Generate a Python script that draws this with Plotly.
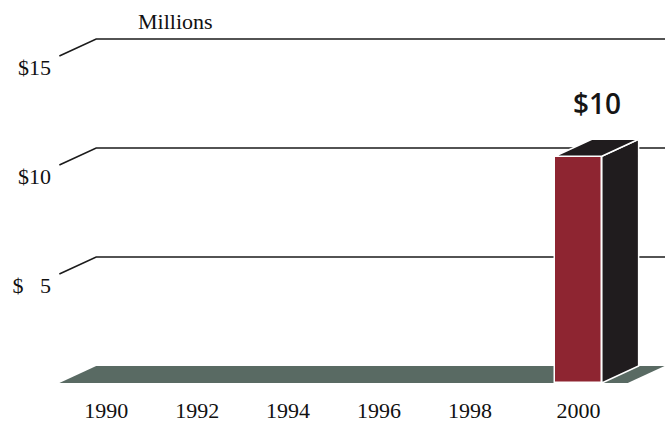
import plotly.graph_objects as go

# Revenue in millions of dollars, by year
label_years = [1990, 1992, 1994, 1996, 1998, 2000]
bar_years = [2000]
bar_values = [10.4]
grid_values = [5, 10, 15]
grid_labels = ["$\u2007\u00a05", "$10", "$15"]

# Pseudo-3D styling
depth_x, depth_y = 0.81, 0.78          # receding offset of the back plane (data units)
bar_width, bar_offset = 1.03, -0.13    # bar front face relative to its year
x_range = [1988.94, 2002.29]
y_range = [-0.55, 17.2]
floor_x0, floor_x1 = 1988.97, 2001.47

front_color = "#8e2531"
side_color = "#201c1e"
floor_color = "#596a63"
grid_color = "#1b1b1b"
serif = "Liberation Serif"

shapes = []

# floor slab
shapes.append(dict(
    type="path", xref="x", yref="y", layer="below",
    path=(f"M{floor_x0},0 L{floor_x1},0 L{floor_x1 + depth_x},{depth_y} "
          f"L{floor_x0 + depth_x},{depth_y} Z"),
    fillcolor=floor_color, line=dict(width=0),
))

# grid lines: short diagonal on the left wall, then flat along the back wall
for v in grid_values:
    shapes.append(dict(
        type="path", xref="x", yref="y", layer="below",
        path=(f"M{floor_x0},{v} L{floor_x0 + depth_x},{v + depth_y} "
              f"L{x_range[1] + 1},{v + depth_y}"),
        line=dict(color=grid_color, width=1.6),
    ))

# side and top faces of each bar
for yr, v in zip(bar_years, bar_values):
    x0 = yr + bar_offset
    x1 = x0 + bar_width
    shapes.append(dict(
        type="path", xref="x", yref="y", layer="above",
        path=(f"M{x1},0 L{x1 + depth_x},{depth_y} L{x1 + depth_x},{v + depth_y} "
              f"L{x1},{v} Z"),
        fillcolor=side_color, line=dict(color="white", width=1.5),
    ))
    shapes.append(dict(
        type="path", xref="x", yref="y", layer="above",
        path=(f"M{x0},{v} L{x1},{v} L{x1 + depth_x},{v + depth_y} "
              f"L{x0 + depth_x},{v + depth_y} Z"),
        fillcolor=side_color, line=dict(color="white", width=1.5),
    ))

fig = go.Figure()
fig.add_trace(go.Bar(
    x=bar_years, y=bar_values, width=bar_width, offset=bar_offset,
    marker=dict(color=front_color, line=dict(color="white", width=1.5)),
    hoverinfo="skip", showlegend=False,
))

# year labels sit under the centre of the bar for years that have one
tick_pos = [yr + (bar_offset + bar_width / 2 if yr in bar_years else 0) for yr in label_years]

annotations = [
    dict(x=1990.66, y=16.6, xref="x", yref="y", text="Millions", showarrow=False,
         xanchor="left", yanchor="middle", font=dict(family=serif, size=22, color="#111")),
]
for yr, v in zip(bar_years, bar_values):
    annotations.append(dict(
        x=yr + bar_offset + bar_width / 2 + depth_x / 2, y=v + depth_y,
        xref="x", yref="y", text=f"${round(v)}", showarrow=False,
        xanchor="center", yanchor="bottom", yshift=15,
        font=dict(family="Open Sans", size=28, color="#151515", weight=600),
    ))

fig.update_layout(
    width=665, height=423,
    margin=dict(l=58, r=0, t=8, b=28),
    paper_bgcolor="white", plot_bgcolor="white",
    shapes=shapes, annotations=annotations,
    bargap=0,
    xaxis=dict(range=x_range, showgrid=False, zeroline=False, showline=False,
               automargin=False,
               tickmode="array", tickvals=tick_pos, ticktext=[str(y) for y in label_years],
               ticks="",
               tickfont=dict(family=serif, size=22, color="#111")),
    yaxis=dict(range=y_range, showgrid=False, zeroline=False, showline=False,
               automargin=False,
               tickmode="array", tickvals=grid_values, ticktext=grid_labels,
               ticks="", ticklabelshift=11, ticklabelstandoff=6,
               tickfont=dict(family=serif, size=22, color="#111")),
)

fig.write_html("out.html")
